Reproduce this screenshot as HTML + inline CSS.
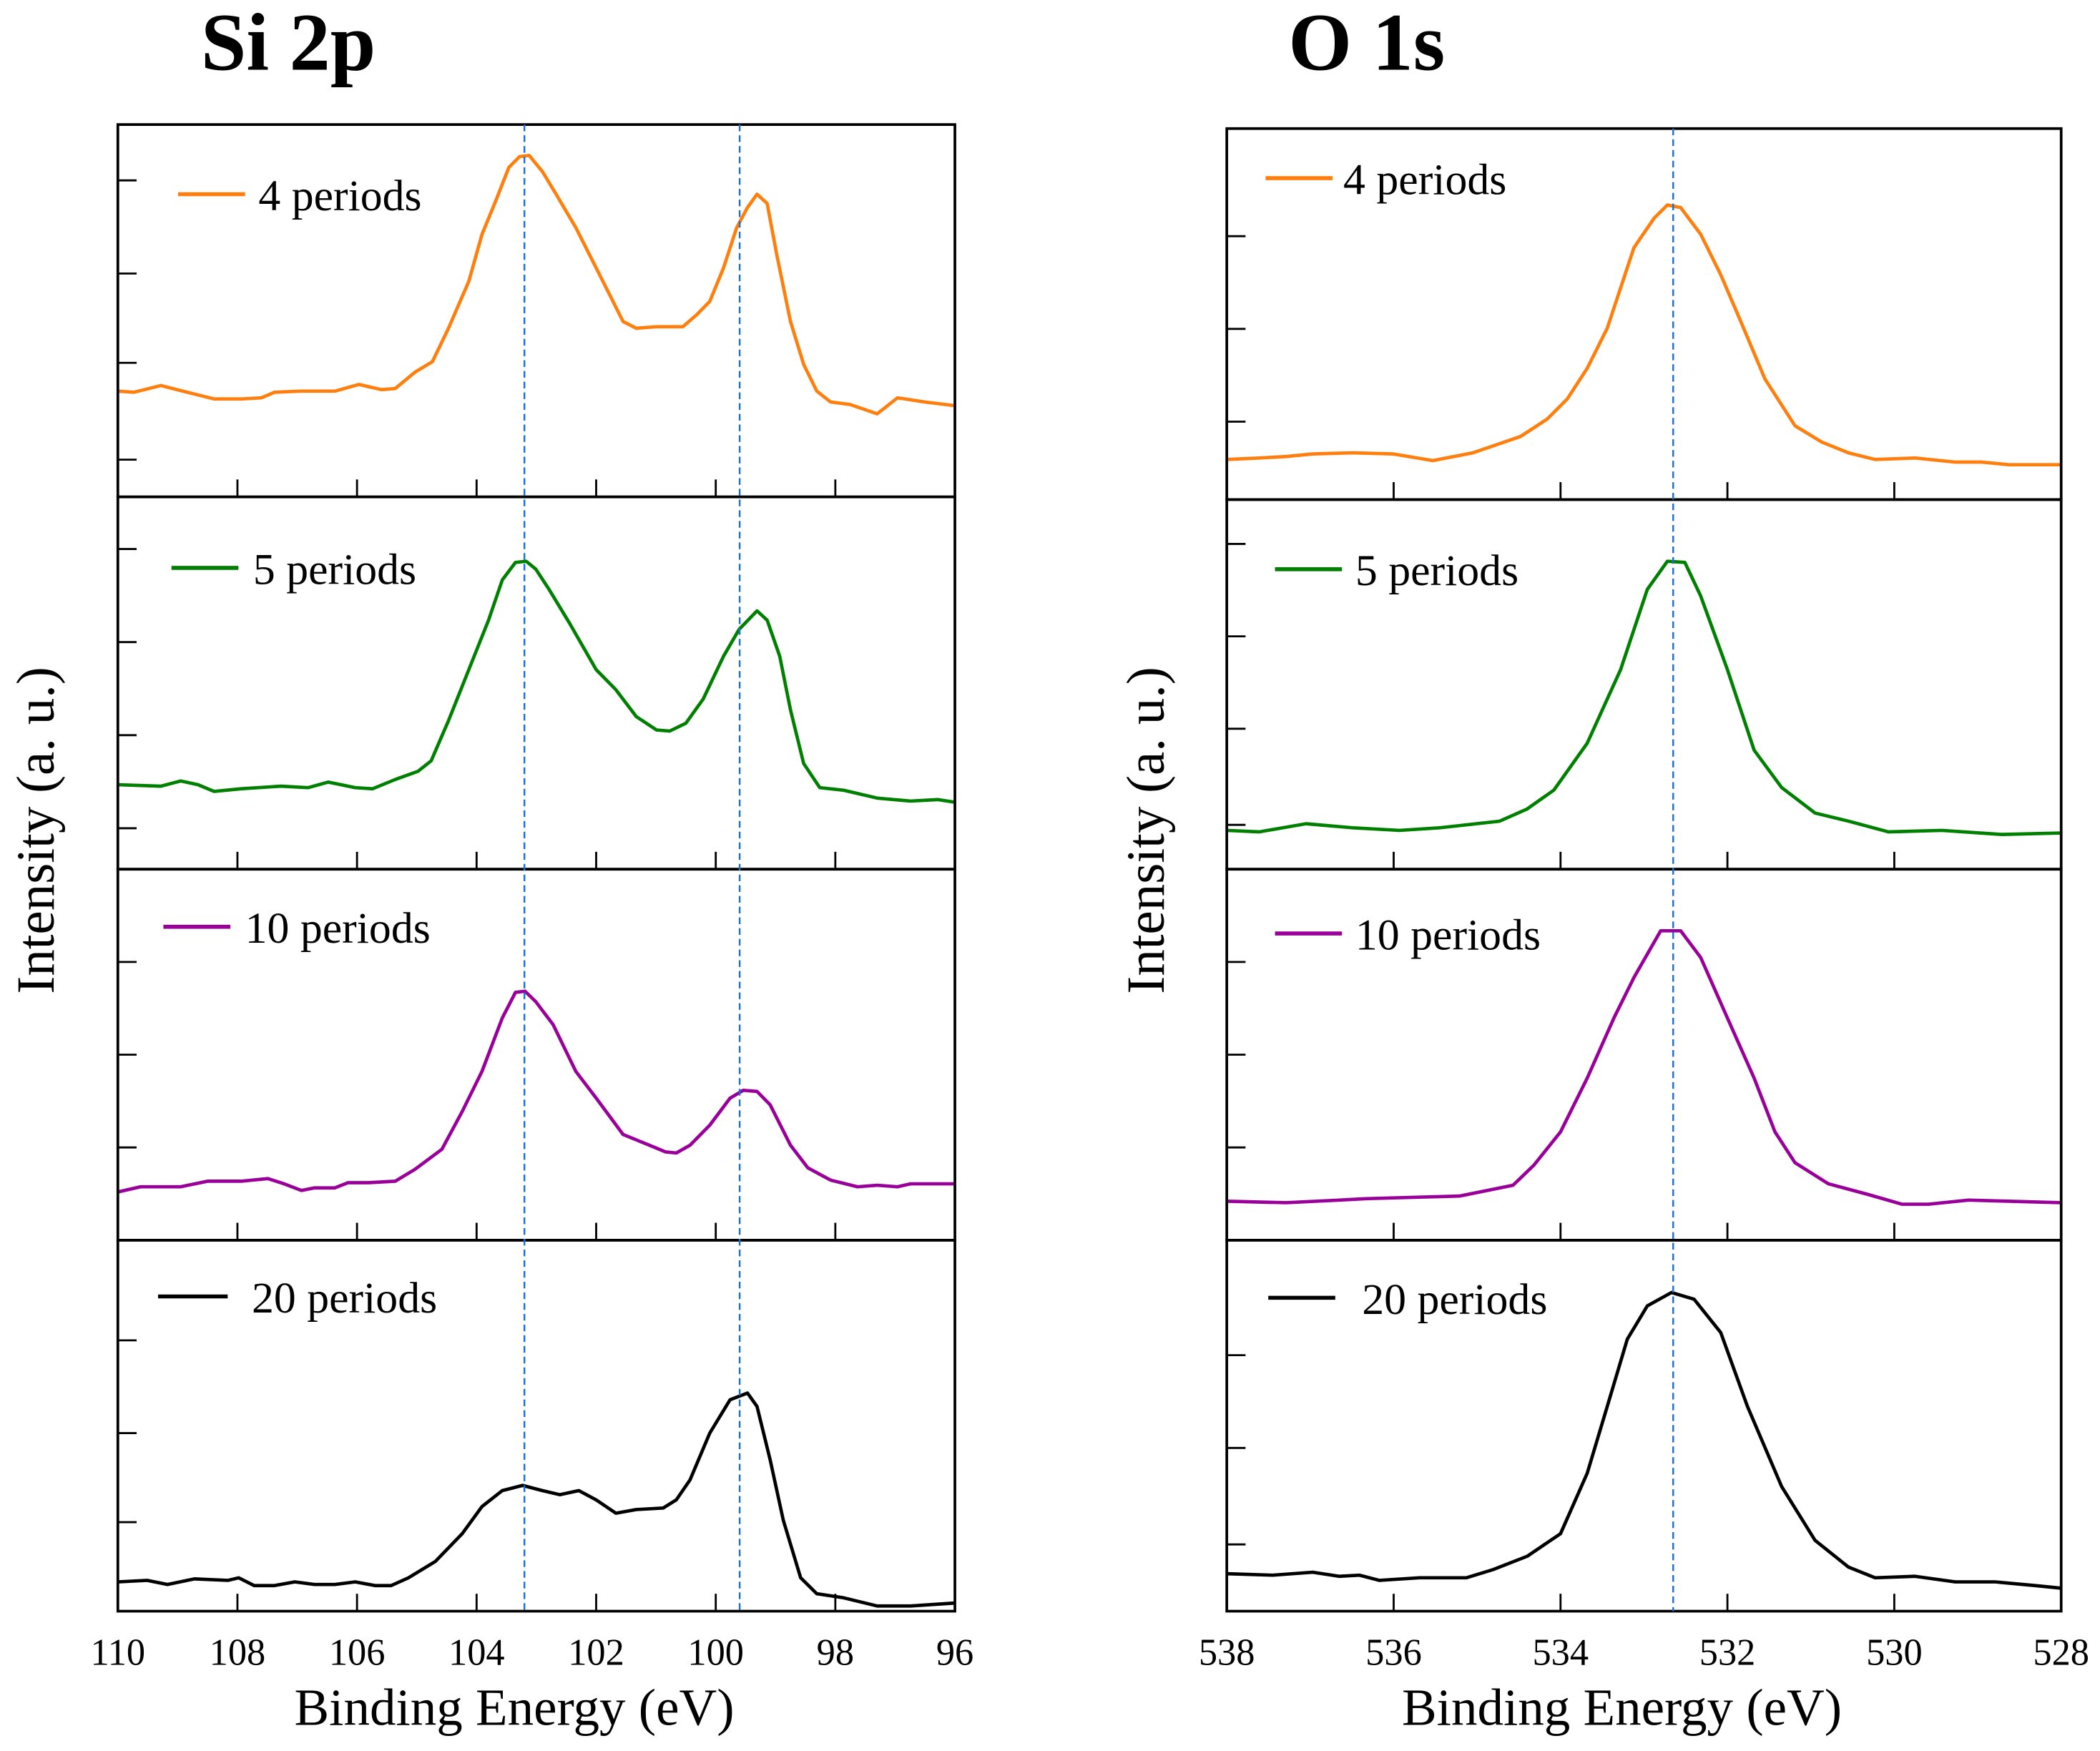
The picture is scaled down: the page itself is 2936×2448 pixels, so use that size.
<!DOCTYPE html>
<html><head><meta charset="utf-8"><style>
html,body{margin:0;padding:0;background:#fff;}
svg{display:block;font-family:"Liberation Serif",serif;}
</style></head><body>
<svg id="fig" width="2936" height="2448" viewBox="0 0 1568 1307.4" preserveAspectRatio="none" xmlns="http://www.w3.org/2000/svg">
<text x="150" y="52" font-size="61" font-weight="bold">Si 2p</text>
<text x="962" y="52" font-size="61" font-weight="bold">O 1s</text>
<text transform="translate(40,620) rotate(-90)" text-anchor="middle" font-size="40">Intensity (a. u.)</text>
<text transform="translate(869,620) rotate(-90)" text-anchor="middle" font-size="40">Intensity (a. u.)</text>
<text x="384" y="1288" text-anchor="middle" font-size="39">Binding Energy (eV)</text>
<text x="1211" y="1288" text-anchor="middle" font-size="39">Binding Energy (eV)</text>
</svg>
<script>
// ---- data ----
const siTicks = [110,108,106,104,102,100,98,96];
const oTicks = [538,536,534,532,530,528];
const seriesNames = ["4 periods","5 periods","10 periods","20 periods"];
const seriesColors = ["#ff7f0e","#008000","#990099","#000000"];
const siRefLines = [103.2, 99.6];
const oRefLines = [532.65];

const si4E = [110.0,109.73,109.28,108.84,108.39,107.94,107.6,107.38,106.93,106.37,105.97,105.59,105.36,105.03,104.74,104.47,104.13,103.91,103.68,103.46,103.28,103.12,102.9,102.67,102.34,102.0,101.55,101.33,100.99,100.55,100.32,100.1,99.87,99.65,99.47,99.31,99.14,98.98,98.75,98.53,98.31,98.08,97.75,97.3,96.96,96.51,96.0];
const si4V = [28.4,28.1,29.9,28.1,26.3,26.3,26.6,28.1,28.4,28.4,30.2,28.8,29.1,33.5,36.3,45.3,57.9,70.5,79.5,88.5,91.4,91.7,87.4,81.3,72.3,61.5,47.1,45.3,45.7,45.7,48.9,52.5,61.5,72.3,77.7,81.3,78.8,65.1,47.1,35.6,28.4,25.5,24.8,22.3,26.6,25.5,24.5];
const si5E = [110.0,109.28,108.95,108.66,108.39,107.94,107.27,106.82,106.48,106.03,105.74,105.36,104.98,104.76,104.47,104.13,103.8,103.57,103.35,103.17,103.01,102.79,102.45,102.0,101.67,101.33,100.99,100.77,100.5,100.21,99.87,99.61,99.31,99.14,98.93,98.75,98.53,98.26,97.86,97.3,96.74,96.29,96.0];
const si5V = [22.7,22.3,23.7,22.7,20.9,21.6,22.3,21.9,23.4,21.9,21.6,24.1,26.3,29.1,39.9,53.6,66.9,77.7,82.4,82.7,80.6,75.2,66.2,53.6,48.2,41.0,37.4,37.1,39.2,45.7,57.2,64.4,69.4,66.9,57.2,42.8,28.4,21.9,21.2,19.1,18.3,18.7,18.0];
const si10E = [110.0,109.62,108.95,108.5,107.94,107.49,107.22,106.93,106.71,106.37,106.15,105.81,105.36,105.03,104.58,104.24,103.91,103.57,103.35,103.19,103.01,102.72,102.34,102.0,101.55,101.11,100.84,100.66,100.43,100.1,99.76,99.54,99.31,99.09,98.75,98.46,98.08,97.63,97.3,96.96,96.74,96.0];
const si10V = [13.0,14.4,14.4,15.9,15.9,16.6,15.2,13.4,14.1,14.1,15.5,15.5,15.9,19.1,24.5,34.7,45.5,59.9,66.8,67.1,64.3,58.1,45.5,38.3,28.5,25.6,23.8,23.5,25.6,31.0,38.3,40.4,40.1,36.5,25.6,19.5,16.2,14.4,14.8,14.4,15.2,15.2];
const si20E = [110.0,109.51,109.17,108.72,108.16,107.98,107.72,107.38,107.04,106.71,106.37,106.03,105.7,105.43,105.14,104.69,104.24,103.91,103.57,103.23,102.9,102.61,102.29,102.0,101.67,101.33,100.88,100.66,100.43,100.1,99.76,99.47,99.31,99.09,98.87,98.58,98.31,97.86,97.3,96.74,96.0];
const si20V = [7.9,8.3,7.2,8.7,8.3,9.0,6.9,6.9,7.9,7.2,7.2,7.9,6.9,6.9,9.0,13.4,20.9,28.2,32.5,33.9,32.5,31.4,32.5,30.0,26.4,27.4,27.8,30.0,35.4,48.0,57.0,58.8,55.2,40.8,24.5,9.0,4.7,3.6,1.4,1.4,2.2];

const o4E = [538.0,537.61,537.29,536.97,536.49,536.01,535.53,535.05,534.48,534.16,533.92,533.68,533.44,533.12,532.88,532.72,532.56,532.32,532.08,531.84,531.55,531.19,530.87,530.55,530.23,529.75,529.27,528.95,528.63,528.0];
const o4V = [10.8,11.2,11.6,12.3,12.6,12.3,10.5,12.6,17.0,21.7,27.1,35.4,46.2,67.9,75.8,79.4,78.7,71.5,60.6,48.0,32.5,19.9,15.5,12.6,10.8,11.2,10.1,10.1,9.4,9.4];
const o5E = [538.0,537.61,537.05,536.49,535.93,535.45,535.13,534.73,534.4,534.08,533.68,533.28,532.96,532.72,532.51,532.32,532.0,531.68,531.35,530.95,530.55,530.07,529.43,528.71,528.0];
const o5V = [10.5,10.1,12.3,11.2,10.5,11.2,12.0,13.0,16.3,21.4,34.1,54.0,75.7,83.3,83.0,73.9,54.0,32.2,22.1,15.2,13.0,10.1,10.5,9.4,9.8];
const o10E = [538.0,537.29,536.65,536.33,535.69,535.21,534.57,534.32,534.0,533.68,533.36,533.12,532.8,532.56,532.32,532.0,531.68,531.43,531.19,530.79,530.31,529.91,529.59,529.11,528.63,528.0];
const o10V = [10.5,10.1,10.8,11.2,11.6,11.9,14.8,20.2,29.2,43.7,59.9,70.8,83.4,83.4,76.2,59.9,43.7,29.2,20.9,15.2,12.3,9.7,9.7,10.8,10.5,10.1];
const o20E = [538.0,537.45,536.97,536.65,536.41,536.17,535.69,535.13,534.81,534.4,534.0,533.68,533.44,533.2,532.96,532.67,532.4,532.08,531.76,531.35,530.95,530.55,530.23,529.75,529.27,528.79,528.31,528.0];
const o20V = [10.1,9.7,10.5,9.4,9.7,8.3,9.0,9.0,11.2,14.8,20.9,37.2,55.2,73.3,82.3,85.9,84.1,75.1,55.2,33.6,19.1,11.9,9.0,9.4,7.9,7.9,6.9,6.2];

// y tick values (a.u., 0-100 per panel)
const siYTicks = [[85,60,36,10],[86,61,36,11],[75,50,25],[73,48,24]];
const oYTicks = [[71,46,21],[88,63,38,12],[75,50,25],[69,44,18]];

// ---- layout ----
const NS = "http://www.w3.org/2000/svg";
const svg = document.getElementById('fig');
function mk(tag, attrs, parent){ const e=document.createElementNS(NS,tag); for(const k in attrs) e.setAttribute(k,attrs[k]); (parent||svg).appendChild(e); return e; }

const charts = [
  {name:'si', x0:88, x1:713, d0:110, d1:96, tops:[93,371,649,926], bottom:1203, ticks:siTicks, yt:siYTicks, refs:siRefLines,
   E:[si4E,si5E,si10E,si20E], V:[si4V,si5V,si10V,si20V],
   leg:[[133,183,145,193],[128,178,424,189],[122,172,692,183],[118,170,968,188]]},
  {name:'o', x0:916, x1:1539, d0:538, d1:528, tops:[96,373,649,926], bottom:1203, ticks:oTicks, yt:oYTicks, refs:oRefLines,
   E:[o4E,o5E,o10E,o20E], V:[o4V,o5V,o10V,o20V],
   leg:[[945,995,133,1003],[952,1002,425,1012],[952,1002,697,1012],[947,997,969,1017]]}
];

charts.forEach(c=>{
  const xs = v => c.x0 + (v - c.d0)/(c.d1 - c.d0)*(c.x1 - c.x0);
  const g = mk('g',{});
  
  
  for(let p=0;p<4;p++){
    const top=c.tops[p], bot = p<3 ? c.tops[p+1] : c.bottom;
    const ys = v => bot - v/100*(bot-top);
    const pg = mk('g',{},g);
    
    
    c.ticks.forEach((t,i)=>{
      if(i===0||i===c.ticks.length-1) return;
      const l = mk('line',{x1:xs(t),x2:xs(t),y1:bot,y2:bot-13,stroke:'#000','stroke-width':1.5},pg);
      
      
    });
    c.yt[p].forEach(t=>{
      const l = mk('line',{x1:c.x0,x2:c.x0+14,y1:ys(t),y2:ys(t),stroke:'#000','stroke-width':1.5},pg);
      
      
    });
    const E=c.E[p], V=c.V[p];
    let d='';
    for(let i=0;i<E.length;i++) d += (i?'L':'M') + xs(E[i]).toFixed(2)+','+ys(V[i]).toFixed(2);
    const path = mk('path',{d:d,fill:'none',stroke:seriesColors[p],'stroke-width':2.5,'stroke-linejoin':'round'},pg);
    
    
    const L=c.leg[p];
    const ll = mk('line',{x1:L[0],x2:L[1],y1:L[2],y2:L[2],stroke:seriesColors[p],'stroke-width':3},pg);
    
    
    const lt = mk('text',{x:L[3],y:L[2]+12,'font-size':33},pg);
    lt.textContent = seriesNames[p];
    
    
    const r = mk('rect',{x:c.x0,y:top,width:c.x1-c.x0,height:bot-top,fill:'none',stroke:'#000','stroke-width':2},pg);
    
    
  }
  c.refs.forEach(v=>{
    const l = mk('line',{x1:xs(v),x2:xs(v),y1:c.tops[0],y2:c.bottom,stroke:'#1f6fd0','stroke-width':1.3,'stroke-dasharray':'5,3'},g);
    
    
  });
  c.ticks.forEach(t=>{
    const tx = mk('text',{x:xs(t),y:1243,'text-anchor':'middle','font-size':28},g);
    tx.textContent = t;
    
    
  });
});
</script>
</body></html>
